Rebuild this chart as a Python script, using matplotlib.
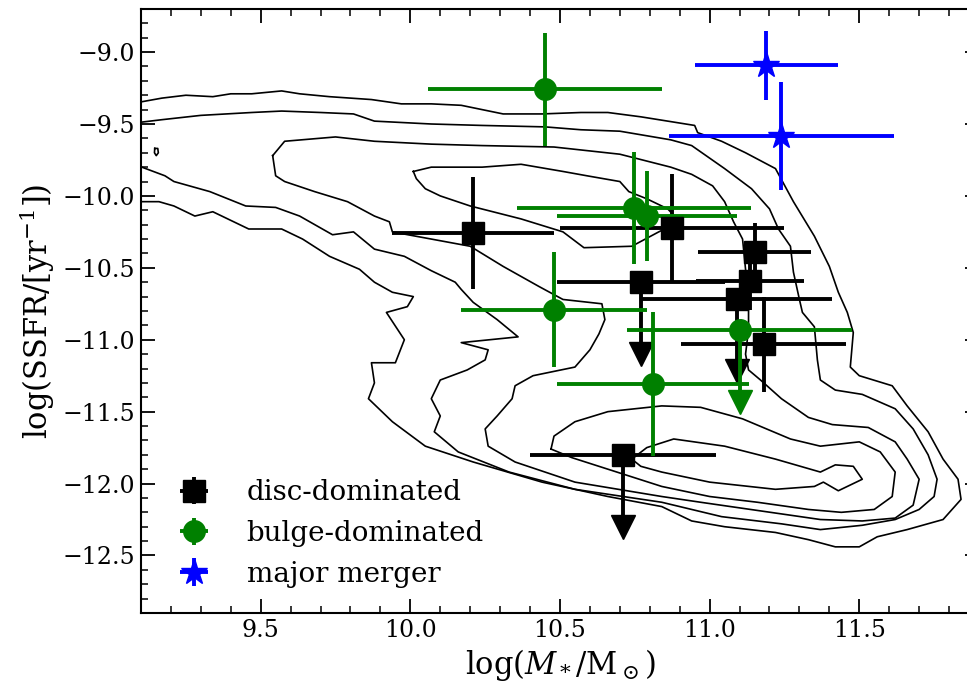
import matplotlib.pyplot as plt
import numpy as np
from matplotlib.ticker import MultipleLocator

plt.rcParams['font.family'] = 'serif'
plt.rcParams['mathtext.fontset'] = 'dejavuserif'

# disc-dominated galaxies
disc_mass = [10.21, 10.875, 11.15, 11.135, 10.77, 11.09, 11.18, 10.71]
disc_ssfr = [-10.26, -10.22, -10.39, -10.59, -10.60, -10.72, -11.03, -11.80]
disc_xerr = [0.27, 0.375, 0.19, 0.18, 0.28, 0.32, 0.275, 0.31]
disc_yerr = [0.39, 0.37, 0.20, 0.20, 0.0, 0.0, 0.33, 0.0]
disc_uplim = [False, False, False, False, True, True, False, True]

# bulge-dominated galaxies
bulge_mass = [10.45, 10.747, 10.79, 10.48, 11.10, 10.81]
bulge_ssfr = [-9.26, -10.085, -10.14, -10.79, -10.93, -11.31]
bulge_xerr = [0.39, 0.39, 0.30, 0.31, 0.375, 0.32]
bulge_yerr = [0.39, 0.39, 0.31, 0.40, 0.0, 0.50]
bulge_uplim = [False, False, False, False, True, False]

# major mergers
merger_mass = [11.19, 11.24]
merger_ssfr = [-9.09, -9.585]
merger_xerr = [0.24, 0.376]
merger_yerr = [0.24, 0.375]

# density contours of the comparison sample (traced)
c1_mass = [9.09, 9.17, 9.25, 9.34, 9.40, 9.47, 9.57, 9.63, 9.73, 9.87, 9.97, 10.07, 10.17, 10.31, 10.44,
           10.57, 10.66, 10.77, 10.86, 10.95, 10.96, 11.04, 11.12, 11.22, 11.28, 11.35, 11.40, 11.43,
           11.46, 11.48, 11.47, 11.50, 11.61, 11.66, 11.73, 11.78, 11.83, 11.84, 11.78, 11.66, 11.56,
           11.50, 11.42, 11.33, 11.22, 11.05, 10.94, 10.84, 10.66, 10.44, 10.21, 10.05, 9.94, 9.86,
           9.88, 9.87, 9.95, 9.98, 9.92, 9.99, 10.01, 9.94, 9.88, 9.83, 9.73, 9.64, 9.57, 9.46, 9.37,
           9.34, 9.28, 9.21, 9.16, 9.09]
c1_ssfr = [-9.35, -9.32, -9.30, -9.31, -9.29, -9.29, -9.27, -9.29, -9.31, -9.33, -9.36, -9.36, -9.37,
           -9.43, -9.43, -9.42, -9.42, -9.45, -9.48, -9.51, -9.56, -9.62, -9.70, -9.81, -10.04, -10.28,
           -10.49, -10.67, -10.81, -10.95, -11.19, -11.25, -11.32, -11.46, -11.64, -11.83, -11.97,
           -12.11, -12.25, -12.32, -12.37, -12.44, -12.44, -12.39, -12.34, -12.30, -12.26, -12.16,
           -12.09, -11.99, -11.85, -11.74, -11.57, -11.41, -11.30, -11.16, -11.16, -11.00, -10.81,
           -10.77, -10.70, -10.67, -10.60, -10.51, -10.42, -10.30, -10.23, -10.23, -10.14, -10.11,
           -10.14, -10.07, -10.04, -10.04]

c2_mass = [9.09, 9.17, 9.30, 9.47, 9.57, 9.70, 9.81, 9.88, 10.07, 10.24, 10.45, 10.57, 10.70, 10.87,
           10.94, 11.05, 11.14, 11.20, 11.23, 11.27, 11.28, 11.30, 11.31, 11.35, 11.36, 11.37, 11.42,
           11.51, 11.62, 11.68, 11.73, 11.76, 11.75, 11.70, 11.62, 11.51, 11.37, 11.24, 11.04, 10.84,
           10.55, 10.33, 10.16, 10.08, 10.10, 10.07, 10.10, 10.19, 10.25, 10.26, 10.17, 10.36, 10.29,
           10.21, 10.17, 10.15, 10.07, 9.98, 9.88, 9.81, 9.74, 9.63, 9.55, 9.45, 9.33, 9.21, 9.18, 9.09]
c2_ssfr = [-9.49, -9.47, -9.44, -9.42, -9.41, -9.42, -9.43, -9.48, -9.50, -9.51, -9.52, -9.54, -9.55,
           -9.61, -9.65, -9.81, -9.95, -10.09, -10.23, -10.35, -10.53, -10.72, -10.81, -10.91, -11.14,
           -11.28, -11.35, -11.38, -11.48, -11.62, -11.80, -11.97, -12.09, -12.18, -12.25, -12.29,
           -12.32, -12.28, -12.23, -12.13, -12.04, -11.92, -11.78, -11.64, -11.53, -11.41, -11.28,
           -11.21, -11.14, -11.07, -11.02, -10.98, -10.86, -10.74, -10.65, -10.60, -10.52, -10.42,
           -10.37, -10.25, -10.27, -10.14, -10.08, -10.07, -9.97, -9.90, -9.86, -9.79]

c3_mass = [9.54, 9.58, 9.75, 9.88, 10.07, 10.24, 10.48, 10.70, 10.87, 10.94, 11.01, 11.05, 11.08,
           11.11, 11.12, 11.13, 11.13, 11.12, 11.13, 11.17, 11.24, 11.33, 11.41, 11.53, 11.62, 11.66,
           11.70, 11.68, 11.62, 11.51, 11.37, 11.17, 10.97, 10.84, 10.55, 10.35, 10.26, 10.25, 10.29,
           10.34, 10.35, 10.41, 10.55, 10.60, 10.63, 10.65, 10.64, 10.51, 10.43, 10.31, 10.20, 10.07,
           9.94, 9.93, 9.88, 9.79, 9.68, 9.58, 9.55, 9.54]
c3_ssfr = [-9.72, -9.62, -9.59, -9.62, -9.64, -9.65, -9.66, -9.71, -9.80, -9.85, -9.93, -10.04, -10.18,
           -10.30, -10.51, -10.72, -10.93, -11.10, -11.21, -11.28, -11.41, -11.54, -11.59, -11.61,
           -11.71, -11.83, -11.97, -12.15, -12.24, -12.26, -12.25, -12.19, -12.13, -12.09, -11.99,
           -11.85, -11.74, -11.62, -11.53, -11.41, -11.32, -11.25, -11.19, -11.07, -10.96, -10.86,
           -10.75, -10.72, -10.63, -10.49, -10.35, -10.30, -10.25, -10.18, -10.14, -10.04, -9.97,
           -9.90, -9.86, -9.72]

c4_mass = [10.47, 10.48, 10.55, 10.66, 10.84, 10.97, 11.11, 11.27, 11.37, 11.50, 11.57, 11.62, 11.61,
           11.55, 11.44, 11.33, 11.16, 11.00, 10.84, 10.66, 10.54, 10.47]
c4_ssfr = [-11.76, -11.67, -11.57, -11.50, -11.46, -11.47, -11.55, -11.69, -11.74, -11.71, -11.78,
           -11.92, -12.09, -12.18, -12.20, -12.18, -12.13, -12.09, -12.02, -11.90, -11.82, -11.76]

c4sf_mass = [10.01, 10.07, 10.24, 10.37, 10.51, 10.59, 10.70, 10.73, 10.79, 10.86, 10.90, 10.83, 10.74,
             10.58, 10.51, 10.37, 10.20, 10.10, 10.05, 10.02, 10.01]
c4sf_ssfr = [-9.83, -9.80, -9.80, -9.78, -9.83, -9.86, -9.90, -9.97, -10.02, -10.09, -10.18, -10.25,
             -10.35, -10.36, -10.25, -10.16, -10.07, -10.00, -9.95, -9.88, -9.83]

c5_mass = [10.74, 10.79, 10.88, 11.05, 11.22, 11.37, 11.42, 11.48, 11.51, 11.43, 11.38, 11.35, 11.22,
           11.00, 10.84, 10.77, 10.74]
c5_ssfr = [-11.83, -11.75, -11.69, -11.74, -11.83, -11.92, -11.87, -11.88, -11.97, -12.05, -11.99,
           -12.02, -12.04, -11.99, -11.92, -11.88, -11.83]

island_mass = [9.146, 9.156, 9.158, 9.151, 9.145, 9.146]
island_ssfr = [-9.67, -9.67, -9.70, -9.72, -9.70, -9.67]

contours = [(c1_mass, c1_ssfr), (c2_mass, c2_ssfr), (c3_mass, c3_ssfr), (c4_mass, c4_ssfr),
            (c4sf_mass, c4sf_ssfr), (c5_mass, c5_ssfr), (island_mass, island_ssfr)]

lim_len = 0.5

fig = plt.figure(figsize=(9.67, 6.88), dpi=100)
ax = fig.add_axes([0.1458, 0.109, 0.8666, 0.878])

for cm, cs in contours:
    ax.plot(cm, cs, color='k', lw=1.2, zorder=1)

lw_err = 2.8


def plot_set(mass, ssfr, xerr, yerr, uplim, color, fmt, ms, label):
    mass = np.array(mass)
    ssfr = np.array(ssfr)
    uplim = np.array(uplim, dtype=bool)
    h = ax.errorbar(mass, ssfr, xerr=xerr, yerr=yerr, fmt=fmt, color=color, ms=ms,
                    elinewidth=lw_err, capsize=0, label=label, zorder=3)
    if uplim.any():
        ax.vlines(mass[uplim], ssfr[uplim], ssfr[uplim] - lim_len, color=color, lw=lw_err, zorder=3)
        ax.plot(mass[uplim], ssfr[uplim] - lim_len, 'v', color=color, ms=17, zorder=3)
    return h


plot_set(disc_mass, disc_ssfr, disc_xerr, disc_yerr, disc_uplim, 'k', 's', 16, 'disc-dominated')
plot_set(bulge_mass, bulge_ssfr, bulge_xerr, bulge_yerr, bulge_uplim, 'green', 'o', 15.5,
         'bulge-dominated')
plot_set(merger_mass, merger_ssfr, merger_xerr, merger_yerr, [False, False], 'blue', '*', 20,
         'major merger')

ax.set_xlim(9.1, 11.9)
ax.set_ylim(-12.9, -8.7)
ax.xaxis.set_major_locator(MultipleLocator(0.5))
ax.xaxis.set_minor_locator(MultipleLocator(0.1))
ax.yaxis.set_major_locator(MultipleLocator(0.5))
ax.yaxis.set_minor_locator(MultipleLocator(0.1))
ax.tick_params(which='both', direction='in', top=True, right=True, labelsize=17)
ax.tick_params(which='major', length=10, width=1.3, pad=4)
ax.tick_params(which='minor', length=5, width=1.1)
for sp in ax.spines.values():
    sp.set_linewidth(1.5)

ax.set_xlabel(r'log($M_*$/M$_\odot$)', fontsize=22)
ax.set_ylabel(r'log(SSFR/[yr$^{-1}$])', fontsize=22)

ax.legend(loc='lower left', frameon=False, fontsize=20, labelspacing=0.5, handletextpad=0.9)

fig.savefig('out.png', dpi=100)
